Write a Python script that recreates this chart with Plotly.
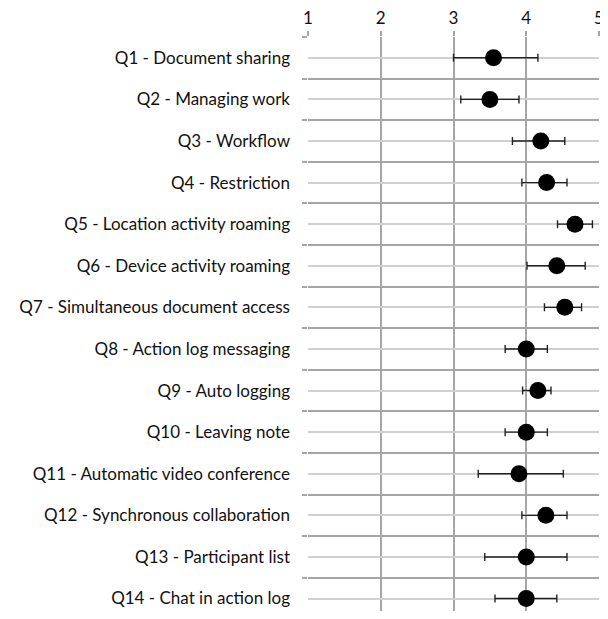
import plotly.graph_objects as go

labels = [
    "Q1 - Document sharing",
    "Q2 - Managing work",
    "Q3 - Workflow",
    "Q4 - Restriction",
    "Q5 - Location activity roaming",
    "Q6 - Device activity roaming",
    "Q7 - Simultaneous document access",
    "Q8 - Action log messaging",
    "Q9 - Auto logging",
    "Q10 - Leaving note",
    "Q11 - Automatic video conference",
    "Q12 - Synchronous collaboration",
    "Q13 - Participant list",
    "Q14 - Chat in action log",
]
means = [3.55, 3.50, 4.20, 4.28, 4.67, 4.42, 4.53, 4.00, 4.16, 4.00, 3.90, 4.27, 4.00, 4.00]
err_low = [3.00, 3.10, 3.81, 3.94, 4.43, 4.01, 4.25, 3.71, 3.95, 3.71, 3.34, 3.94, 3.43, 3.57]
err_high = [4.16, 3.90, 4.53, 4.56, 4.91, 4.81, 4.76, 4.29, 4.34, 4.29, 4.51, 4.56, 4.56, 4.42]
x_ticks = [1, 2, 3, 4, 5]

pos = list(range(1, len(labels) + 1))
plus = [h - m for h, m in zip(err_high, means)]
minus = [m - l for m, l in zip(means, err_low)]
bounds = [p - 0.5 for p in pos] + [len(labels) + 0.5]

fig = go.Figure()
fig.add_trace(go.Scatter(
    x=means, y=pos, mode="markers",
    marker=dict(color="black", size=17, line=dict(width=0)),
    error_x=dict(type="data", symmetric=False, array=plus, arrayminus=minus,
                 color="#222222", thickness=1.4, width=4),
    showlegend=False, cliponaxis=False,
))

fig.update_layout(
    width=600, height=603,
    margin=dict(l=300, r=9, t=29, b=0, pad=0),
    plot_bgcolor="white", paper_bgcolor="white",
    font=dict(family="Lato, 'Open Sans', sans-serif", size=17, color="#111111"),
)
fig.update_xaxes(
    side="top", range=[1, 5], tickvals=x_ticks, ticktext=[str(v) for v in x_ticks],
    showgrid=True, gridcolor="#a6a6a6", gridwidth=1.5,
    ticks="outside", ticklen=5, tickcolor="#a6a6a6", tickwidth=1.5,
    zeroline=False, showline=False, tickfont=dict(size=17),
    ticklabeloverflow="allow",
)
fig.update_yaxes(
    range=[len(labels) + 0.3, 0.5], tickvals=pos, ticktext=labels,
    showgrid=True, gridcolor="#d0d0d0", gridwidth=1.5,
    ticks="", zeroline=False, showline=False, ticklabelstandoff=17,
    minor=dict(tickvals=bounds, showgrid=True, gridcolor="#a6a6a6", gridwidth=1.5,
               ticks="outside", ticklen=5, tickcolor="#a6a6a6", tickwidth=1.5),
)

fig.write_html("out.html", config={"displayModeBar": False})
